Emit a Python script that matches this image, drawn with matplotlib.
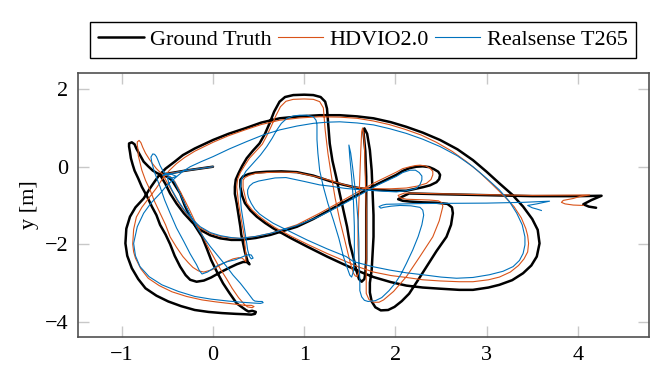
import matplotlib
matplotlib.use("Agg")
import matplotlib.pyplot as plt

# trajectories (x [m], y [m])
gt_pts = [
    (0.0, 0.0), (-0.3, -0.1), (-0.58, -0.21),
    (-0.52, -0.45), (-0.47, -0.69), (-0.40, -0.95), (-0.32, -1.20), (-0.23, -1.43),
    (-0.14, -1.63), (-0.03, -1.77), (0.08, -1.85), (0.20, -1.89), (0.30, -1.89),
    (0.47, -1.84), (0.63, -1.76), (0.92, -1.55), (1.10, -1.35), (1.28, -1.12),
    (1.45, -0.90), (1.61, -0.69), (1.80, -0.45), (2.01, -0.21), (2.08, -0.11),
    (2.15, -0.04), (2.23, 0.0), (2.30, 0.01), (2.37, -0.01), (2.42, -0.06),
    (2.47, -0.13), (2.49, -0.21), (2.48, -0.32), (2.45, -0.40), (2.38, -0.48),
    (2.30, -0.53), (2.12, -0.62), (1.95, -0.62), (1.83, -0.60), (1.68, -0.58),
    (1.55, -0.53), (1.42, -0.46), (1.28, -0.37), (1.10, -0.23), (0.92, -0.14),
    (0.75, -0.12), (0.59, -0.13), (0.47, -0.15), (0.39, -0.19), (0.33, -0.25),
    (0.30, -0.34), (0.30, -0.52), (0.32, -0.75), (0.35, -0.94), (0.41, -1.13),
    (0.48, -1.29), (0.57, -1.45), (0.66, -1.59), (0.85, -1.84), (1.03, -2.06),
    (1.25, -2.32), (1.46, -2.55), (1.61, -2.71), (1.76, -2.85), (1.95, -2.98),
    (2.12, -3.07), (2.30, -3.12), (2.49, -3.15), (2.70, -3.18), (2.85, -3.18),
    (3.02, -3.12), (3.14, -3.05), (3.28, -2.93), (3.40, -2.75), (3.49, -2.55),
    (3.55, -2.32), (3.58, -1.98), (3.57, -1.80), (3.56, -1.63), (3.50, -1.35),
    (3.40, -1.03), (3.28, -0.72), (3.14, -0.43), (3.00, -0.13), (2.85, 0.17),
    (2.68, 0.45), (2.49, 0.69), (2.30, 0.88), (2.12, 1.03), (1.95, 1.15),
    (1.76, 1.25), (1.58, 1.30), (1.39, 1.33), (1.17, 1.33), (0.95, 1.30),
    (0.73, 1.25), (0.53, 1.14), (0.35, 0.99), (0.17, 0.85), (0.0, 0.69),
    (-0.2, 0.47), (-0.33, 0.30), (-0.42, 0.13), (-0.52, -0.05), (-0.60, -0.25),
    (-0.68, -0.52), (-0.76, -0.82), (-0.85, -1.05), (-0.91, -1.29), (-0.95, -1.60),
    (-0.96, -1.98), (-0.94, -2.30), (-0.89, -2.62), (-0.82, -2.90), (-0.74, -3.14),
    (-0.62, -3.33), (-0.49, -3.48), (-0.35, -3.60), (-0.20, -3.70), (-0.05, -3.75),
    (0.10, -3.78), (0.25, -3.80), (0.35, -3.81), (0.42, -3.82), (0.46, -3.80),
    (0.47, -3.75), (0.43, -3.72), (0.39, -3.74), (0.36, -3.70), (0.26, -3.53),
    (0.18, -3.26), (0.11, -3.01), (0.04, -2.70), (-0.02, -2.41), (-0.07, -2.10),
    (-0.12, -1.81), (-0.19, -1.55), (-0.25, -1.29), (-0.31, -1.00), (-0.36, -0.69),
    (-0.41, -0.50), (-0.45, -0.35), (-0.50, -0.26), (-0.55, -0.22), (-0.61, -0.17),
    (-0.66, -0.10), (-0.71, 0.01), (-0.76, 0.13), (-0.80, 0.30), (-0.84, 0.47),
    (-0.86, 0.58), (-0.89, 0.63), (-0.92, 0.60), (-0.92, 0.52), (-0.91, 0.38),
    (-0.90, 0.22), (-0.88, 0.05), (-0.86, -0.10), (-0.82, -0.30), (-0.78, -0.52),
    (-0.72, -0.78), (-0.67, -1.03), (-0.62, -1.25), (-0.58, -1.50), (-0.52, -1.75),
    (-0.47, -2.00), (-0.42, -2.30), (-0.36, -2.58), (-0.30, -2.80), (-0.25, -2.92),
    (-0.18, -2.97), (-0.10, -2.94), (-0.02, -2.86), (0.07, -2.74), (0.17, -2.62),
    (0.26, -2.52), (0.33, -2.46), (0.37, -2.46), (0.40, -2.52), (0.38, -2.45),
    (0.35, -2.20), (0.33, -1.98), (0.31, -1.75), (0.30, -1.55), (0.28, -1.25),
    (0.26, -0.95), (0.24, -0.70), (0.24, -0.52), (0.25, -0.33), (0.28, -0.17),
    (0.32, 0.02), (0.37, 0.22), (0.44, 0.42), (0.51, 0.60), (0.57, 0.85),
    (0.62, 1.12), (0.67, 1.42), (0.73, 1.68), (0.79, 1.80), (0.88, 1.85),
    (1.00, 1.86), (1.10, 1.85), (1.18, 1.80), (1.23, 1.68), (1.25, 1.50),
    (1.26, 1.21), (1.27, 0.90), (1.28, 0.60), (1.31, 0.15), (1.35, -0.26),
    (1.39, -0.70), (1.43, -1.12), (1.47, -1.55), (1.50, -1.98), (1.54, -2.35),
    (1.57, -2.66), (1.60, -2.90), (1.63, -2.97), (1.66, -2.90), (1.67, -2.75),
    (1.68, -2.40), (1.68, -1.98), (1.68, -1.10), (1.68, -0.26), (1.67, 0.40),
    (1.65, 0.90), (1.66, 0.99), (1.69, 0.85), (1.72, 0.43), (1.74, -0.10),
    (1.75, -0.69), (1.76, -1.25), (1.76, -1.81), (1.75, -2.25), (1.74, -2.66),
    (1.72, -3.00), (1.72, -3.25), (1.74, -3.48), (1.78, -3.63), (1.84, -3.71),
    (1.92, -3.70), (1.99, -3.62), (2.07, -3.47), (2.15, -3.28), (2.25, -2.92),
    (2.35, -2.55), (2.45, -2.18), (2.56, -1.81), (2.61, -1.50), (2.63, -1.20),
    (2.62, -1.05), (2.57, -0.96), (2.45, -0.93), (2.30, -0.92), (2.16, -0.90),
    (2.08, -0.88), (2.03, -0.84), (2.07, -0.78), (2.15, -0.69), (2.50, -0.71),
    (2.92, -0.73), (3.50, -0.76), (4.00, -0.76), (4.26, -0.75), (4.15, -0.86),
    (4.06, -0.97), (4.12, -1.03), (4.20, -1.06),
]

hd_pts = [
    (0.0, 0.0), (-0.3, -0.1), (-0.55, -0.2),
    (-0.50, -0.42), (-0.45, -0.62), (-0.39, -0.88), (-0.32, -1.12), (-0.23, -1.37),
    (-0.14, -1.58), (-0.03, -1.72), (0.08, -1.80), (0.20, -1.84), (0.30, -1.85),
    (0.47, -1.80), (0.63, -1.72), (0.92, -1.50), (1.17, -1.20), (1.40, -0.90),
    (1.61, -0.62), (1.80, -0.38), (2.01, -0.14), (2.08, -0.05), (2.16, 0.0),
    (2.22, 0.03), (2.27, 0.04), (2.33, 0.02), (2.38, -0.04), (2.41, -0.12),
    (2.41, -0.21), (2.39, -0.33), (2.34, -0.43), (2.24, -0.50), (2.12, -0.55),
    (1.95, -0.57), (1.83, -0.57), (1.68, -0.56), (1.55, -0.53), (1.42, -0.45),
    (1.28, -0.35), (1.10, -0.24), (0.92, -0.15), (0.75, -0.14), (0.59, -0.15),
    (0.47, -0.17), (0.40, -0.22), (0.35, -0.28), (0.33, -0.35), (0.33, -0.55),
    (0.35, -0.75), (0.37, -0.94), (0.43, -1.12), (0.50, -1.27), (0.59, -1.43),
    (0.68, -1.57), (0.86, -1.80), (1.05, -2.02), (1.25, -2.24), (1.46, -2.45),
    (1.61, -2.60), (1.76, -2.72), (1.95, -2.81), (2.12, -2.86), (2.30, -2.92),
    (2.49, -2.95), (2.70, -2.97), (2.85, -2.97), (3.02, -2.92), (3.14, -2.85),
    (3.26, -2.72), (3.35, -2.55), (3.41, -2.38), (3.45, -2.20), (3.46, -1.98),
    (3.45, -1.78), (3.43, -1.60), (3.38, -1.32), (3.30, -1.03), (3.18, -0.73),
    (3.05, -0.43), (2.92, -0.14), (2.78, 0.13), (2.62, 0.40), (2.45, 0.63),
    (2.28, 0.82), (2.10, 0.97), (1.93, 1.09), (1.76, 1.18), (1.58, 1.25),
    (1.39, 1.28), (1.17, 1.29), (0.95, 1.26), (0.73, 1.20), (0.53, 1.09),
    (0.35, 0.95), (0.17, 0.80), (0.0, 0.63), (-0.2, 0.40), (-0.31, 0.24),
    (-0.40, 0.08), (-0.48, -0.10), (-0.55, -0.30), (-0.62, -0.55), (-0.70, -0.80),
    (-0.78, -1.05), (-0.84, -1.30), (-0.87, -1.62), (-0.88, -2.00), (-0.87, -2.20),
    (-0.85, -2.36), (-0.79, -2.64), (-0.71, -2.88), (-0.59, -3.07), (-0.45, -3.23),
    (-0.29, -3.35), (-0.12, -3.44), (0.03, -3.49), (0.17, -3.53), (0.28, -3.56),
    (0.35, -3.58), (0.42, -3.58), (0.45, -3.61), (0.43, -3.64), (0.38, -3.62),
    (0.35, -3.57), (0.28, -3.38), (0.21, -3.14), (0.15, -2.90), (0.07, -2.60),
    (0.0, -2.30), (-0.07, -2.00), (-0.13, -1.70), (-0.20, -1.40), (-0.26, -1.10),
    (-0.32, -0.82), (-0.38, -0.55), (-0.42, -0.38), (-0.47, -0.25), (-0.55, -0.20),
    (-0.59, -0.12), (-0.62, -0.05), (-0.66, 0.07), (-0.70, 0.20), (-0.74, 0.35),
    (-0.77, 0.50), (-0.79, 0.62), (-0.81, 0.68), (-0.83, 0.64), (-0.83, 0.55),
    (-0.82, 0.43), (-0.82, 0.30), (-0.80, 0.10), (-0.78, -0.09), (-0.74, -0.35),
    (-0.69, -0.60), (-0.64, -0.90), (-0.58, -1.20), (-0.52, -1.50), (-0.47, -1.81),
    (-0.40, -2.08), (-0.33, -2.32), (-0.27, -2.48), (-0.22, -2.60), (-0.16, -2.69),
    (-0.10, -2.72), (-0.01, -2.66), (0.08, -2.54), (0.15, -2.45), (0.22, -2.38),
    (0.28, -2.35), (0.32, -2.36), (0.36, -2.45), (0.36, -2.25), (0.35, -2.00),
    (0.34, -1.75), (0.32, -1.50), (0.30, -1.22), (0.28, -0.95), (0.27, -0.72),
    (0.26, -0.52), (0.27, -0.32), (0.30, -0.15), (0.35, 0.04), (0.40, 0.22),
    (0.47, 0.40), (0.54, 0.58), (0.59, 0.80), (0.64, 1.05), (0.69, 1.32),
    (0.74, 1.55), (0.80, 1.69), (0.88, 1.74), (1.00, 1.75), (1.10, 1.74),
    (1.17, 1.68), (1.21, 1.52), (1.22, 1.25), (1.23, 0.95), (1.26, 0.35),
    (1.30, -0.26), (1.34, -0.82), (1.39, -1.38), (1.44, -1.85), (1.48, -2.24),
    (1.51, -2.52), (1.54, -2.75), (1.56, -2.82), (1.58, -2.84), (1.60, -2.72),
    (1.60, -2.50), (1.59, -2.00), (1.59, -1.55), (1.60, -0.90), (1.61, -0.26),
    (1.62, 0.40), (1.63, 0.90), (1.64, 1.00), (1.65, 0.88), (1.66, 0.60),
    (1.67, -0.25), (1.68, -1.12), (1.68, -1.80), (1.68, -2.41), (1.68, -2.90),
    (1.68, -3.27), (1.71, -3.43), (1.76, -3.50), (1.82, -3.50), (1.87, -3.44),
    (1.98, -3.22), (2.12, -2.84), (2.26, -2.35), (2.41, -1.81), (2.48, -1.40),
    (2.52, -1.03), (2.51, -0.93), (2.47, -0.88), (2.37, -0.86), (2.25, -0.85),
    (2.12, -0.84), (2.05, -0.80), (2.03, -0.74), (2.10, -0.68), (2.50, -0.70),
    (2.92, -0.72), (3.50, -0.74), (4.13, -0.73), (4.02, -0.77), (3.95, -0.82),
    (3.84, -0.87), (3.82, -0.92), (3.86, -0.96), (3.95, -0.99), (4.06, -1.00),
]

rs_pts = [
    (0.0, 0.0), (-0.3, -0.1), (-0.55, -0.22), (-0.50, -0.18), (-0.45, -0.20),
    (-0.40, -0.25), (-0.45, -0.29), (-0.50, -0.28),
    (-0.48, -0.45), (-0.45, -0.60), (-0.39, -0.85), (-0.32, -1.10), (-0.23, -1.35),
    (-0.14, -1.55), (-0.03, -1.70), (0.08, -1.78), (0.20, -1.83), (0.30, -1.85),
    (0.47, -1.80), (0.63, -1.72), (0.92, -1.52), (1.17, -1.28), (1.40, -1.00),
    (1.61, -0.73), (1.80, -0.48), (2.01, -0.25), (2.08, -0.15), (2.16, -0.09),
    (2.22, -0.09), (2.26, -0.15), (2.29, -0.24), (2.29, -0.34), (2.27, -0.46),
    (2.23, -0.56), (2.12, -0.62), (2.01, -0.65), (1.85, -0.63), (1.65, -0.60),
    (1.45, -0.56), (1.28, -0.50), (1.17, -0.47), (1.00, -0.38), (0.80, -0.28),
    (0.68, -0.29), (0.59, -0.33), (0.50, -0.37), (0.44, -0.42), (0.40, -0.50),
    (0.38, -0.60), (0.38, -0.70), (0.39, -0.80), (0.42, -0.95), (0.46, -1.10),
    (0.51, -1.22), (0.57, -1.32), (0.66, -1.46), (0.85, -1.68), (1.03, -1.89),
    (1.25, -2.12), (1.46, -2.32), (1.54, -2.45), (1.75, -2.58), (1.94, -2.67),
    (2.12, -2.74), (2.30, -2.79), (2.50, -2.85), (2.67, -2.88), (2.85, -2.86),
    (3.03, -2.79), (3.18, -2.70), (3.29, -2.58), (3.36, -2.42), (3.40, -2.24),
    (3.42, -2.02), (3.42, -1.81), (3.39, -1.50), (3.33, -1.20), (3.25, -0.90),
    (3.14, -0.60), (3.00, -0.30), (2.85, 0.0), (2.68, 0.28), (2.49, 0.52),
    (2.30, 0.71), (2.12, 0.86), (1.94, 0.98), (1.76, 1.08), (1.58, 1.13),
    (1.39, 1.16), (1.25, 1.15), (1.10, 1.12), (0.92, 1.05), (0.73, 0.95),
    (0.55, 0.82), (0.37, 0.65), (0.18, 0.46), (0.0, 0.26), (-0.13, 0.13),
    (-0.25, 0.0), (-0.33, -0.12), (-0.40, -0.26), (-0.50, -0.47), (-0.58, -0.69),
    (-0.68, -0.94), (-0.76, -1.20), (-0.83, -1.55), (-0.87, -1.98), (-0.85, -2.30),
    (-0.80, -2.58), (-0.70, -2.84), (-0.56, -3.05), (-0.38, -3.22), (-0.20, -3.35),
    (-0.02, -3.42), (0.17, -3.47), (0.32, -3.50), (0.44, -3.52), (0.52, -3.53),
    (0.55, -3.51), (0.54, -3.48), (0.50, -3.48), (0.46, -3.47), (0.44, -3.44),
    (0.37, -3.22), (0.30, -3.01), (0.22, -2.80), (0.15, -2.58), (0.06, -2.32),
    (-0.03, -2.06), (-0.11, -1.80), (-0.18, -1.55), (-0.26, -1.20), (-0.33, -0.86),
    (-0.38, -0.60), (-0.42, -0.40), (-0.46, -0.29), (-0.50, -0.22), (-0.53, -0.16),
    (-0.55, -0.10), (-0.58, 0.03), (-0.60, 0.15), (-0.62, 0.26), (-0.64, 0.32),
    (-0.66, 0.33), (-0.68, 0.25), (-0.67, 0.10), (-0.64, -0.15), (-0.58, -0.52),
    (-0.53, -0.86), (-0.47, -1.20), (-0.40, -1.58), (-0.32, -1.93), (-0.25, -2.25),
    (-0.18, -2.53), (-0.15, -2.68), (-0.12, -2.77), (-0.06, -2.72), (0.06, -2.54),
    (0.16, -2.45), (0.25, -2.40), (0.31, -2.34), (0.35, -2.30), (0.39, -2.27),
    (0.42, -2.28), (0.44, -2.36), (0.42, -2.38), (0.40, -2.32), (0.38, -2.15),
    (0.37, -1.98), (0.35, -1.68), (0.33, -1.38), (0.31, -1.08), (0.30, -0.77),
    (0.30, -0.55), (0.31, -0.34), (0.36, -0.12), (0.44, 0.09), (0.52, 0.30),
    (0.59, 0.52), (0.65, 0.74), (0.70, 0.95), (0.75, 1.12), (0.81, 1.25),
    (0.88, 1.31), (0.95, 1.33), (1.03, 1.33), (1.10, 1.29), (1.13, 1.20),
    (1.14, 1.08), (1.14, 0.70), (1.15, 0.35), (1.17, -0.10), (1.21, -0.52),
    (1.26, -0.95), (1.32, -1.38), (1.38, -1.85), (1.43, -2.32), (1.47, -2.60),
    (1.50, -2.80), (1.52, -2.85), (1.54, -2.70), (1.55, -2.20), (1.55, -1.55),
    (1.54, -0.90), (1.52, -0.26), (1.50, 0.25), (1.49, 0.56), (1.51, 0.35),
    (1.53, 0.0), (1.55, -0.40), (1.57, -0.80), (1.59, -1.38), (1.60, -1.95),
    (1.60, -2.50), (1.61, -2.90), (1.61, -3.20), (1.63, -3.36), (1.66, -3.45),
    (1.70, -3.48), (1.78, -3.46), (1.85, -3.38), (1.93, -3.20), (2.00, -3.00),
    (2.06, -2.78), (2.12, -2.50), (2.19, -2.15), (2.25, -1.80), (2.29, -1.50),
    (2.31, -1.25), (2.30, -1.12), (2.27, -1.05), (2.17, -1.01), (2.05, -1.00),
    (1.95, -1.02), (1.87, -1.05), (1.84, -1.07), (1.82, -1.03), (1.86, -0.99),
    (1.90, -0.97), (2.30, -0.95), (3.00, -0.94), (3.40, -0.92), (3.69, -0.89),
    (3.55, -0.96), (3.45, -1.00), (3.50, -1.06), (3.56, -1.10), (3.60, -1.13),
]

gt_x, gt_y = zip(*gt_pts)
hd_x, hd_y = zip(*hd_pts)
rs_x, rs_y = zip(*rs_pts)

plt.rcParams['font.family'] = ['Liberation Serif', 'DejaVu Serif']
plt.rcParams['mathtext.fontset'] = 'stix'
plt.rcParams['font.size'] = 16

fig = plt.figure(figsize=(6.57, 3.74), dpi=100)
ax = fig.add_axes([0.1187, 0.0997, 0.8691, 0.7051])

ax.plot(gt_x, gt_y, color='black', lw=1.8, label='Ground Truth',
        solid_joinstyle='round', solid_capstyle='round')
ax.plot(hd_x, hd_y, color='#D95319', lw=0.8, label='HDVIO2.0',
        solid_joinstyle='round')
ax.plot(rs_x, rs_y, color='#0072BD', lw=0.8, label='Realsense T265',
        solid_joinstyle='round')

ax.set_xlim(-1.48, 4.78)
ax.set_ylim(-4.39, 2.42)
ax.set_xticks([-1, 0, 1, 2, 3, 4])
ax.set_yticks([-4, -2, 0, 2])
ax.tick_params(direction='in', length=8, width=1, color='#c8c8c8',
               top=True, right=True, pad=7, labelsize=16)
for s in ax.spines.values():
    s.set_color('#505050')
    s.set_linewidth(1.2)

ax.set_xlabel('x [m]', labelpad=10)
ax.set_ylabel('y [m]', labelpad=4)

leg = ax.legend(loc='center', bbox_to_anchor=(0.5525, 0.894),
                bbox_transform=fig.transFigure, ncol=3, fontsize=16,
                handlelength=2.05, handletextpad=0.3, columnspacing=0.25,
                borderpad=0.35, fancybox=False, edgecolor='black', framealpha=1)
leg.get_frame().set_linewidth(1.0)

fig.savefig('out.png', dpi=100)
